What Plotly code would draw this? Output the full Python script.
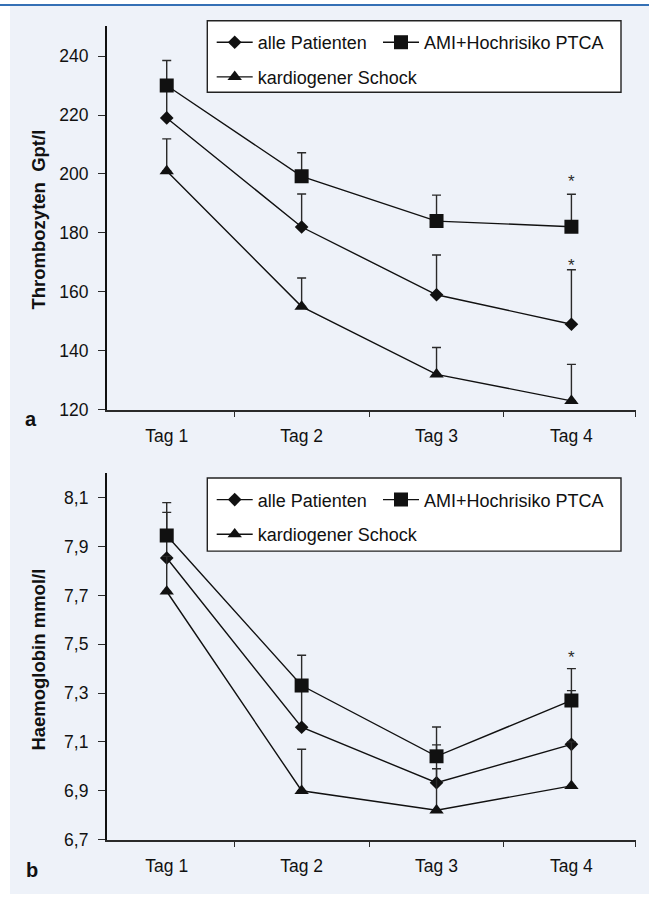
import plotly.graph_objects as go

W, H = 649, 904

days = ["Tag 1", "Tag 2", "Tag 3", "Tag 4"]
series_names = ["alle Patienten", "AMI+Hochrisiko PTCA", "kardiogener Schock"]

# Panel a: Thrombozyten (Gpt/l)
thr_alle = [219, 182, 159, 149]
thr_alle_top = [229, 193.2, 172.5, 167.5]
thr_ami = [230, 199.2, 184, 182.1]
thr_ami_top = [238.5, 207.2, 192.8, 193.1]
thr_schock = [201, 155, 132, 123]
thr_schock_top = [211.9, 164.7, 141.1, 135.4]
thr_star_y = [198.7, 170.2]          # asterisks at Tag 4 (AMI, alle)
thr_ticks = [120, 140, 160, 180, 200, 220, 240]

# Panel b: Haemoglobin (mmol/l)
hb_alle = [7.853, 7.16, 6.933, 7.09]
hb_alle_top = [8.04, 7.32, 7.088, 7.31]
hb_ami = [7.945, 7.331, 7.041, 7.27]
hb_ami_top = [8.08, 7.455, 7.161, 7.40]
hb_schock = [7.716, 6.90, 6.82, 6.92]
hb_schock_top = [7.86, 7.07, 6.99, 7.10]
hb_star_y = [7.463]                  # asterisk at Tag 4 (AMI)
hb_ticks = [6.7, 6.9, 7.1, 7.3, 7.5, 7.7, 7.9, 8.1]
hb_ticktext = ["6,7", "6,9", "7,1", "7,3", "7,5", "7,7", "7,9", "8,1"]

FONT = "Liberation Sans, Arial, sans-serif"
INK = "#111111"
AX = "#2a2a2a"
BG = "#eef2f9"

def px(x):
    return x / W

def py(y):
    return 1 - y / H

xpos = list(range(len(days)))

fig = go.Figure()

symbols = ["diamond", "square", "triangle-up"]
msizes = [10.5, 14, 12.5]

def add_panel(xa, ya, vals, tops, legends):
    for name, v, t, sym, ms, lg in zip(series_names, vals, tops, symbols, msizes, legends):
        up = [(tt - vv) if tt is not None else None for tt, vv in zip(t, v)]
        fig.add_trace(go.Scatter(
            x=xpos, y=v, name=name, mode="lines+markers",
            xaxis=xa, yaxis=ya, legend=lg,
            line=dict(color=INK, width=1.4),
            marker=dict(symbol=sym, size=ms, color=INK, line=dict(width=0)),
            error_y=dict(type="data", symmetric=False, array=up,
                         arrayminus=[0] * len(v), color=AX,
                         thickness=1.4, width=4.5),
            hoverinfo="skip",
        ))

add_panel("x", "y", [thr_alle, thr_ami, thr_schock],
          [thr_alle_top, thr_ami_top, thr_schock_top],
          ["legend", "legend2", "legend3"])
add_panel("x2", "y2", [hb_alle, hb_ami, hb_schock],
          [hb_alle_top, hb_ami_top, hb_schock_top],
          ["legend4", "legend5", "legend6"])

xdom = [px(106.7), px(635.5)]
xrange_ = [-0.445, 3.475]

def xaxis_cfg(anchor):
    return dict(
        domain=xdom, range=xrange_, anchor=anchor,
        tickmode="array", tickvals=xpos, ticktext=days, ticks="",
        ticklabelstandoff=10,
        minor=dict(tickmode="array", tickvals=[0.5, 1.5, 2.5, 3.475],
                   ticks="outside", ticklen=6, tickwidth=1.4, tickcolor=AX),
        showline=True, linecolor=AX, linewidth=1.5,
        showgrid=False, zeroline=False,
        tickfont=dict(family=FONT, size=17.5, color=INK),
        fixedrange=True,
    )

def yaxis_cfg(anchor, dom, rng, tv, tt):
    return dict(
        domain=dom, range=rng, anchor=anchor,
        tickmode="array", tickvals=tv, ticktext=tt,
        ticks="outside", ticklen=7, tickwidth=1.4, tickcolor=AX,
        ticklabelstandoff=6,
        showline=True, linecolor=INK, linewidth=1.5,
        showgrid=False, zeroline=False,
        tickfont=dict(family=FONT, size=17.5, color=INK),
        fixedrange=True,
    )

layout = dict(
    width=W, height=H, margin=dict(l=0, r=0, t=0, b=0),
    paper_bgcolor="white", plot_bgcolor="rgba(0,0,0,0)",
    showlegend=True,
    xaxis=xaxis_cfg("y"),
    yaxis=yaxis_cfg("x", [py(414.3), py(26)], [120, 250.3],
                    thr_ticks, [str(t) for t in thr_ticks]),
    xaxis2=xaxis_cfg("y2"),
    yaxis2=yaxis_cfg("x2", [py(849), py(478)], [6.7, 8.2024],
                     hb_ticks, hb_ticktext),
)

# legends: each entry positioned individually inside a drawn frame
leg_pos = {
    "legend": (211.7, 43), "legend2": (378, 43), "legend3": (211.7, 78),
    "legend4": (211.7, 505.5), "legend5": (378, 505.5), "legend6": (211.7, 540.5),
}
for k, (lx, ly) in leg_pos.items():
    layout[k] = dict(
        x=px(lx), y=py(ly), xanchor="left", yanchor="middle",
        xref="paper", yref="paper",
        orientation="h", bgcolor="rgba(0,0,0,0)", borderwidth=0,
        itemwidth=36, itemclick=False, itemdoubleclick=False,
        font=dict(family=FONT, size=18, color=INK),
    )

fig.update_layout(**layout)

shapes = [
    # light background panel
    dict(type="rect", xref="paper", yref="paper", x0=px(10), x1=1, y0=0, y1=py(6),
         fillcolor=BG, line=dict(width=0), layer="below"),
    # blue rule at top
    dict(type="line", xref="paper", yref="paper", x0=0, x1=1, y0=py(5), y1=py(5),
         line=dict(color="#3470b5", width=2), layer="below"),
    # legend frames
    dict(type="rect", xref="paper", yref="paper", x0=px(207.3), x1=px(621),
         y0=py(93.3), y1=py(21), fillcolor="white",
         line=dict(color="#222222", width=1.4), layer="below"),
    dict(type="rect", xref="paper", yref="paper", x0=px(207.3), x1=px(621),
         y0=py(557.3), y1=py(483.3), fillcolor="white",
         line=dict(color="#222222", width=1.4), layer="below"),
]
fig.update_layout(shapes=shapes)

ann = []
# axis titles
ann.append(dict(text="<b>Thrombozyten  Gpt/l</b>", xref="paper", yref="paper",
                x=px(38.5), y=py(222.5), textangle=-90, showarrow=False,
                xanchor="center", yanchor="middle",
                font=dict(family=FONT, size=18.5, color=INK)))
ann.append(dict(text="<b>Haemoglobin mmol/l</b>", xref="paper", yref="paper",
                x=px(38.5), y=py(667.5), textangle=-90, showarrow=False,
                xanchor="center", yanchor="middle",
                font=dict(family=FONT, size=18.5, color=INK)))
# panel letters
ann.append(dict(text="<b>a</b>", xref="paper", yref="paper", x=px(31), y=py(424),
                showarrow=False, xanchor="center", yanchor="middle",
                font=dict(family=FONT, size=20, color=INK)))
ann.append(dict(text="<b>b</b>", xref="paper", yref="paper", x=px(32), y=py(880),
                showarrow=False, xanchor="center", yanchor="middle",
                font=dict(family=FONT, size=20, color=INK)))
# significance asterisks
for yv in thr_star_y:
    ann.append(dict(text="*", xref="x", yref="y", x=xpos[3], y=yv, showarrow=False,
                    xanchor="center", yanchor="middle", yshift=-4,
                    font=dict(family=FONT, size=17, color=AX)))
for yv in hb_star_y:
    ann.append(dict(text="*", xref="x2", yref="y2", x=xpos[3], y=yv, showarrow=False,
                    xanchor="center", yanchor="middle", yshift=-4,
                    font=dict(family=FONT, size=17, color=AX)))
fig.update_layout(annotations=ann)

fig.write_html("out.html")
